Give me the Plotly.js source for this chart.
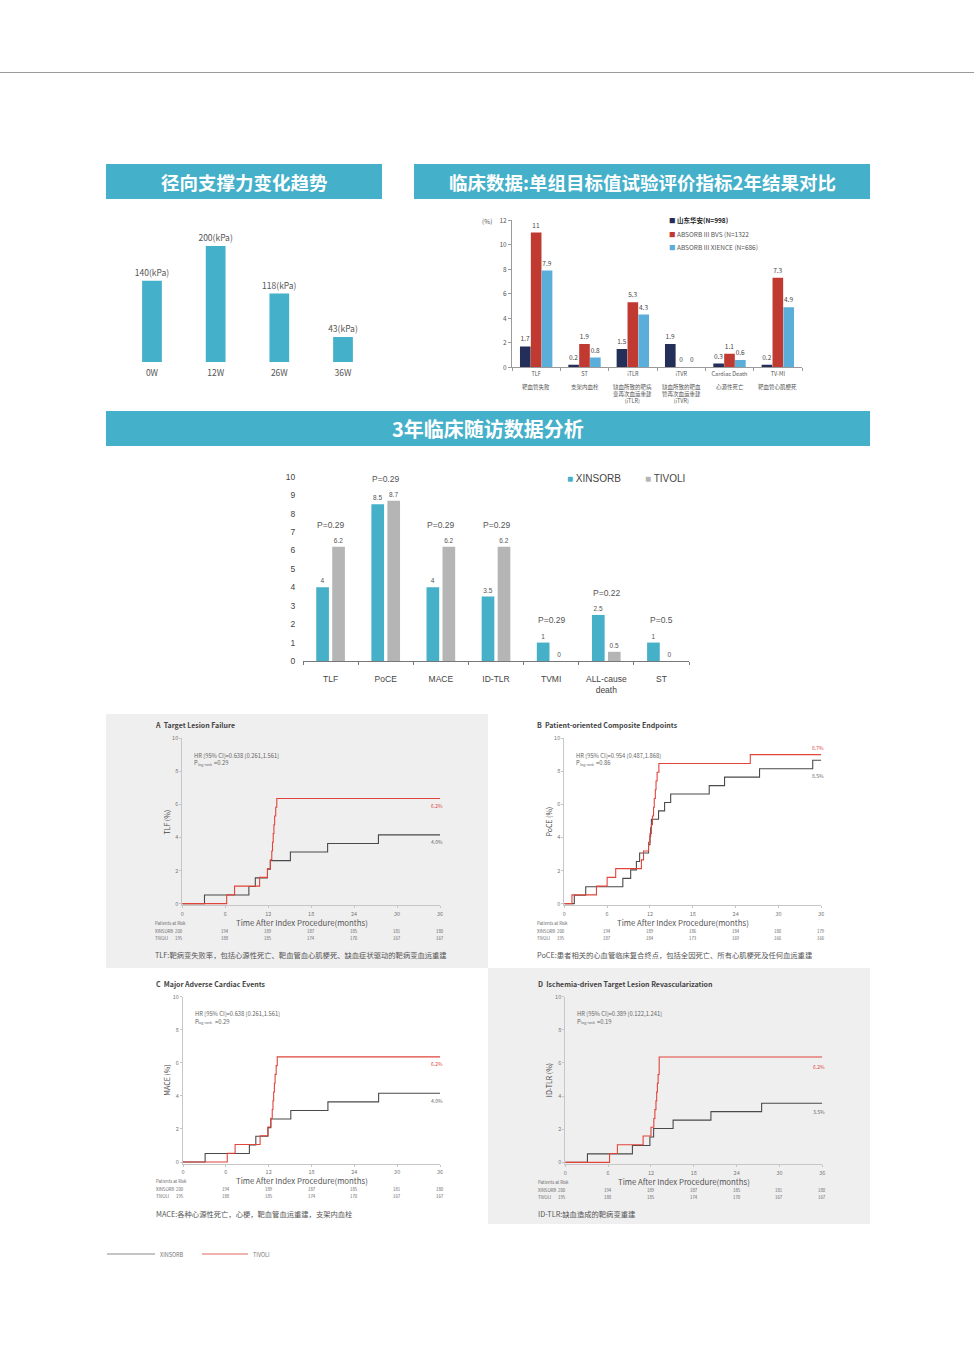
<!DOCTYPE html>
<html><head><meta charset="utf-8">
<script src="https://cdn.plot.ly/plotly-3.0.1.min.js"></script>
<style>html,body{margin:0;padding:0;background:#fff}</style>
</head><body><div id="chart" style="width:974px;height:1366px"></div>
<script>
// ---------- DATA ----------
const forceCats = ['0W','12W','26W','36W'];
const forceVals = [140,200,118,43];

const clinCats = ['TLF','ST','iTLR','iTVR','Cardiac Death','TV-MI'];
const clinCN = ['靶血管失败','支架内血栓','缺血所致的靶病<br>变再次血运重建<br>(iTLR)','缺血所致的靶血<br>管再次血运重建<br>(iTVR)','心源性死亡','靶血管心肌梗死'];
const clinNames = ['山东华安(N=998)','ABSORB III BVS (N=1322','ABSORB III XIENCE (N=686)'];
const clinHuaan = [1.7,0.2,1.5,1.9,0.3,0.2];
const clinBVS = [11,1.9,5.3,0,1.1,7.3];
const clinXience = [7.9,0.8,4.3,0,0.6,4.9];

const fuCats = ['TLF','PoCE','MACE','ID-TLR','TVMI','ALL-cause<br>death','ST'];
const fuXinsorb = [4,8.5,4,3.5,1,2.5,1];
const fuTivoli = [6.2,8.7,6.2,6.2,0,0.5,0];
const fuP = ['P=0.29','P=0.29','P=0.29','P=0.29','P=0.29','P=0.22','P=0.5'];

const monthTicks = [0,6,12,18,24,30,36];

// A: TLF
const tlfXinT = [0,3.1,9.3,10.2,11.9,12.3,15.1,20.3,27.4,36];
const tlfXinV = [0,0.52,1.04,1.56,2.08,2.6,3.12,3.64,4.16,4.16];
const tlfTivT = [0,6.2,7.3,10.8,11.9,12.3,12.5,12.6,12.7,12.8,12.9,13.05,13.2,36];
const tlfTivV = [0,0.53,1.06,1.59,2.12,2.65,3.18,3.71,4.24,4.77,5.3,5.83,6.36,6.36];
const tlfRiskXin = [200,194,189,187,185,181,180];
const tlfRiskTiv = [195,188,185,174,170,167,167];

// B: PoCE
const poceXinT = [0,1.4,3.0,8.2,9.3,10.1,10.55,11.8,12.0,12.1,12.2,13.2,14.05,14.9,20.3,22.45,27.35,34.8,36];
const poceXinV = [0,0.51,1.02,1.53,2.04,2.55,3.06,3.57,4.08,4.59,5.1,5.61,6.12,6.63,7.14,7.65,8.16,8.67,8.67];
const poceTivT = [0,1.07,4.5,6.0,7.2,10.8,11.1,11.8,12.0,12.2,12.35,12.5,12.6,12.75,12.85,13.0,13.25,26.05,36];
const poceTivV = [0,0.53,1.06,1.59,2.12,2.65,3.18,3.71,4.24,4.77,5.3,5.83,6.36,6.89,7.42,7.95,8.48,9.01,9.01];
const poceRiskXin = [200,194,189,186,184,180,179];
const poceRiskTiv = [195,187,184,173,169,166,166];

// C: MACE
const maceXinT = [0,3.1,9.3,10.2,11.9,12.3,15.1,20.3,27.4,36];
const maceXinV = [0,0.52,1.04,1.56,2.08,2.6,3.12,3.64,4.16,4.16];
const maceTivT = [0,6.2,7.3,10.8,11.9,12.3,12.5,12.6,12.7,12.8,12.9,13.05,13.2,36];
const maceTivV = [0,0.53,1.06,1.59,2.12,2.65,3.18,3.71,4.24,4.77,5.3,5.83,6.36,6.36];
const maceRiskXin = [200,194,189,187,185,181,180];
const maceRiskTiv = [195,188,185,174,170,167,167];

// D: ID-TLR
const idtlrXinT = [0,3.1,9.4,11.85,12.37,15.1,20.4,27.5,36];
const idtlrXinV = [0,0.51,1.02,1.53,2.04,2.55,3.06,3.57,3.57];
const idtlrTivT = [0,6.2,7.3,10.9,12.0,12.4,12.55,12.7,12.8,12.9,13.0,13.15,36];
const idtlrTivV = [0,0.53,1.06,1.59,2.12,2.65,3.18,3.71,4.24,4.77,5.3,6.36,6.36];
const idtlrRiskXin = [200,194,189,187,185,181,180];
const idtlrRiskTiv = [195,188,185,174,170,167,167];

// ---------- LAYOUT HELPERS ----------
const W=974, H=1366;
const fx = p => p/W, fy = p => 1 - p/H;
const CJK = '"Noto Sans CJK SC","Noto Sans",sans-serif';
const ARIAL = '"Liberation Sans",Arial,sans-serif';
const TEAL = '#45b0c9';
const traces = [];
const shapes = [];
const ann = [];
function txt(x,y,text,o){ ann.push(Object.assign({xref:'paper',yref:'paper',x:fx(x),y:fy(y),text:text,showarrow:false,xanchor:'left',yanchor:'middle',font:{family:CJK,size:7,color:'#555'}},o||{})); }

const layout = {width:W,height:H,margin:{l:0,r:0,t:0,b:0},paper_bgcolor:'#ffffff',plot_bgcolor:'rgba(0,0,0,0)',
  barmode:'overlay',showlegend:false,font:{family:CJK,color:'#555'},hovermode:false};

// top rule
shapes.push({type:'line',xref:'paper',yref:'paper',x0:0,x1:1,y0:fy(72.5),y1:fy(72.5),line:{color:'#9a9a9a',width:1}});
// header bars
function header(x0,x1,y0,y1,text,size){
  shapes.push({type:'rect',xref:'paper',yref:'paper',x0:fx(x0),x1:fx(x1),y0:fy(y1),y1:fy(y0),fillcolor:TEAL,line:{width:0},layer:'below'});
  txt((x0+x1)/2,(y0+y1)/2,'<b>'+text+'</b>',{xanchor:'center',font:{family:CJK,size:size,color:'#ffffff'}});
}
header(106,382,164,199,'径向支撑力变化趋势',18.5);
header(414,870,164,199,'临床数据:单组目标值试验评价指标2年结果对比',18.5);
header(106,870,411,446,'3年临床随访数据分析',20);

// panel backgrounds
shapes.push({type:'rect',xref:'paper',yref:'paper',x0:fx(106),x1:fx(488),y0:fy(968),y1:fy(714),fillcolor:'#f0efef',line:{width:0},layer:'below'});
shapes.push({type:'rect',xref:'paper',yref:'paper',x0:fx(488),x1:fx(870),y0:fy(1224),y1:fy(968),fillcolor:'#f0efef',line:{width:0},layer:'below'});

// ---------- CHART 1: radial force ----------
layout.xaxis = {domain:[fx(120.15),fx(374.85)],anchor:'y',type:'category',showline:false,ticks:'',showgrid:false,zeroline:false,
  ticklabelstandoff:4,tickfont:{family:CJK,size:8.5,color:'#555'},fixedrange:true};
layout.yaxis = {domain:[fy(362),fy(222)],anchor:'x',range:[0,241.4],visible:false,fixedrange:true};
traces.push({type:'bar',x:forceCats,y:forceVals,xaxis:'x',yaxis:'y',marker:{color:TEAL},width:0.31,offset:-0.155,
  text:forceVals.map(v=>v+'(kPa)'),textposition:'outside',constraintext:'none',textfont:{family:CJK,size:8.5,color:'#555'},cliponaxis:false});

// ---------- CHART 2: clinical comparison ----------
layout.xaxis2 = {domain:[fx(512),fx(802)],anchor:'y2',type:'category',showline:true,linecolor:'#9a9a9a',linewidth:1,
  ticks:'outside',tickson:'boundaries',ticklen:3,tickcolor:'#9a9a9a',showgrid:false,zeroline:false,ticklabelstandoff:1,
  tickfont:{family:CJK,size:5.5,color:'#555'},fixedrange:true};
layout.yaxis2 = {domain:[fy(367.3),fy(220.3)],anchor:'x2',range:[0,12],dtick:2,showline:true,linecolor:'#9a9a9a',linewidth:1,
  ticks:'outside',ticklen:3,tickcolor:'#9a9a9a',showgrid:false,zeroline:false,tickfont:{family:CJK,size:6.5,color:'#555'},fixedrange:true};
const clinColors = ['#232f58','#c13a31','#5aaed9'];
const clinOffsets = [-0.335,-0.11,0.115];
[clinHuaan,clinBVS,clinXience].forEach((vals,i)=>{
  traces.push({type:'bar',name:clinNames[i],x:clinCats,y:vals,xaxis:'x2',yaxis:'y2',marker:{color:clinColors[i]},
    width:0.22,offset:clinOffsets[i],text:vals.map(String),textposition:'outside',constraintext:'none',
    textfont:{family:CJK,size:6.5,color:'#444'},cliponaxis:false});
});
clinCN.forEach((t,i)=>{
  ann.push({xref:'x2',yref:'paper',x:i,y:fy(381),yanchor:'top',xanchor:'center',text:t,showarrow:false,font:{family:CJK,size:5.5,color:'#555'}});
});
txt(487,221,'(%)',{xanchor:'center',font:{family:CJK,size:6.5,color:'#555'}});
clinNames.forEach((n,i)=>{
  const t = i===0 ? '<b>'+n+'</b>' : n;
  txt(667,220+i*13.5,'<span style="color:'+clinColors[i]+'">■</span> '+t,{font:{family:CJK,size:6.5,color:i===0?'#222':'#555'}});
});

// ---------- CHART 3: 3-year follow-up ----------
layout.xaxis3 = {domain:[fx(303),fx(689)],anchor:'y3',type:'category',showline:true,linecolor:'#777',linewidth:1.4,
  ticks:'outside',tickson:'boundaries',ticklen:3,tickcolor:'#777',showgrid:false,zeroline:false,ticklabelstandoff:9,
  tickfont:{family:ARIAL,size:8.5,color:'#444'},fixedrange:true};
layout.yaxis3 = {domain:[fy(661),fy(476.7)],anchor:'x3',range:[0,10],dtick:1,showline:false,ticks:'outside',ticklen:5,
  tickcolor:'rgba(0,0,0,0)',showgrid:false,zeroline:false,tickfont:{family:ARIAL,size:8.5,color:'#444'},fixedrange:true};
traces.push({type:'bar',name:'XINSORB',x:fuCats,y:fuXinsorb,xaxis:'x3',yaxis:'y3',marker:{color:'#45b0c8'},width:0.23,offset:-0.26,
  text:fuXinsorb.map(String),textposition:'outside',constraintext:'none',textfont:{family:ARIAL,size:6.5,color:'#555'},cliponaxis:false});
traces.push({type:'bar',name:'TIVOLI',x:fuCats,y:fuTivoli,xaxis:'x3',yaxis:'y3',marker:{color:'#b5b5b5'},width:0.23,offset:0.03,
  text:fuTivoli.map(String),textposition:'outside',constraintext:'none',textfont:{family:ARIAL,size:6.5,color:'#555'},cliponaxis:false});
fuP.forEach((p,i)=>{
  ann.push({xref:'x3',yref:'y3',x:i,y:Math.max(fuXinsorb[i],fuTivoli[i])+1.2,text:p,showarrow:false,xanchor:'center',yanchor:'middle',
    font:{family:ARIAL,size:8.5,color:'#555'}});
});
txt(565,478,'<span style="color:#45b0c8">■</span> XINSORB',{font:{family:ARIAL,size:10,color:'#444'}});
txt(643,478,'<span style="color:#b5b5b5">■</span> TIVOLI',{font:{family:ARIAL,size:10,color:'#444'}});

// ---------- KM PANELS ----------
function km(idx,c){
  const xa='x'+idx, ya='y'+idx;
  const [x0,x1,yt,yb] = c.box;
  layout['xaxis'+idx] = {domain:[fx(x0),fx(x1)],anchor:ya,range:[0,36],tickvals:monthTicks,showline:true,linecolor:'#c6c6c6',linewidth:1,
    ticks:'outside',ticklen:2,tickcolor:'#c6c6c6',showgrid:false,zeroline:false,ticklabelstandoff:1,tickfont:{family:CJK,size:5.5,color:'#777'},fixedrange:true};
  layout['yaxis'+idx] = {domain:[fy(yb),fy(yt)],anchor:xa,range:[-0.1,10],tickvals:[0,2,4,6,8,10],showline:true,linecolor:'#c6c6c6',linewidth:1,
    ticks:'outside',ticklen:2,tickcolor:'#c6c6c6',showgrid:false,zeroline:false,tickfont:{family:CJK,size:5.5,color:'#777'},fixedrange:true};
  traces.push({type:'scatter',mode:'lines',name:'XINSORB',x:c.xinT,y:c.xinV,xaxis:xa,yaxis:ya,line:{shape:'hv',color:'#4a4a4a',width:1.1},cliponaxis:false});
  traces.push({type:'scatter',mode:'lines',name:'TIVOLI',x:c.tivT,y:c.tivV,xaxis:xa,yaxis:ya,line:{shape:'hv',color:'#e0443b',width:1.1},cliponaxis:false});
  // title
  txt(x0-29.5,yt-13,'<b>'+c.title+'</b>',{font:{family:CJK,size:7,color:'#444'}});
  // HR & p (subscript drawn as its own small text)
  const hf = {family:CJK,size:5.8,color:'#666'};
  txt(x0+9.5,yt+17,c.hr,{font:hf});
  txt(x0+9.5,yt+24.5,'P',{font:hf});
  txt(x0+13.3,yt+26.3,'log-rank',{font:{family:CJK,size:3.6,color:'#666'}});
  txt(x0+30,yt+24.5,'=' + c.p,{font:hf});
  // y title
  ann.push({xref:'paper',yref:'paper',x:fx(x0-15.5),y:fy((yt+yb)/2),text:c.ytitle,textangle:-90,showarrow:false,xanchor:'center',yanchor:'middle',
    font:{family:CJK,size:7,color:'#444'}});
  // x title
  txt((x0+x1)/2-9.5,yb+17,'Time After Index Procedure(months)',{xanchor:'center',font:{family:CJK,size:7.8,color:'#555'}});
  // risk table
  const rf = {family:CJK,size:4.3,color:'#666'};
  txt(x0-29.5,yb+17.5,'Patients at Risk',{font:rf});
  txt(x0-29.5,yb+25.5,'XINSORB',{font:rf});
  txt(x0-29.5,yb+32.5,'TIVOLI',{font:rf});
  [[c.riskXin,yb+25.5],[c.riskTiv,yb+32.5]].forEach(([arr,yy])=>{
    arr.forEach((v,i)=>{
      ann.push({xref:xa,yref:'paper',x:monthTicks[i],y:fy(yy),xshift:i===0?-3:0,text:String(v),showarrow:false,xanchor:'center',yanchor:'middle',
        font:{family:CJK,size:4.3,color:'#666'}});
    });
  });
  // end labels
  ann.push({xref:xa,yref:ya,x:36,y:c.tivLab[1],xshift:5,text:c.tivLab[0],showarrow:false,xanchor:'right',yanchor:'middle',font:{family:CJK,size:5,color:'#e0443b'}});
  ann.push({xref:xa,yref:ya,x:36,y:c.xinLab[1],xshift:5,text:c.xinLab[0],showarrow:false,xanchor:'right',yanchor:'middle',font:{family:CJK,size:5,color:'#666'}});
  // footnote
  txt(x0-29.5,yb+50,c.foot,{font:{family:CJK,size:7.3,color:'#555'}});
}
km(4,{box:[182.3,440,738.3,905.3],title:'A  Target Lesion Failure',ytitle:'TLF (%)',hr:'HR [95% CI]=0.638 [0.261,1.561]',p:'0.29',
  xinT:tlfXinT,xinV:tlfXinV,tivT:tlfTivT,tivV:tlfTivV,riskXin:tlfRiskXin,riskTiv:tlfRiskTiv,tivLab:['6.2%',5.95],xinLab:['4.0%',3.75],
  foot:'TLF:靶病变失败率，包括心源性死亡、靶血管血心肌梗死、缺血症状驱动的靶病变血运重建'});
km(5,{box:[564.3,821.3,738.3,905.3],title:'B  Patient-oriented Composite Endpoints',ytitle:'PoCE (%)',hr:'HR [95% CI]=0.954 [0.487,1.868]',p:'0.86',
  xinT:poceXinT,xinV:poceXinV,tivT:poceTivT,tivV:poceTivV,riskXin:poceRiskXin,riskTiv:poceRiskTiv,tivLab:['8.7%',9.44],xinLab:['8.5%',7.74],
  foot:'PoCE:患者相关的心血管临床复合终点，包括全因死亡、所有心肌梗死及任何血运重建'});
km(6,{box:[183,440,996.7,1163.7],title:'C  Major Adverse Cardiac Events',ytitle:'MACE (%)',hr:'HR [95% CI]=0.638 [0.261,1.561]',p:'0.29',
  xinT:maceXinT,xinV:maceXinV,tivT:maceTivT,tivV:maceTivV,riskXin:maceRiskXin,riskTiv:maceRiskTiv,tivLab:['6.2%',5.95],xinLab:['4.0%',3.75],
  foot:'MACE:各种心源性死亡，心梗，靶血管血运重建，支架内血栓'});
km(7,{box:[565.3,822.3,996.7,1164],title:'D  Ischemia-driven Target Lesion Revascularization',ytitle:'ID-TLR (%)',hr:'HR [95% CI]=0.389 [0.122,1.241]',p:'0.19',
  xinT:idtlrXinT,xinV:idtlrXinV,tivT:idtlrTivT,tivV:idtlrTivV,riskXin:idtlrRiskXin,riskTiv:idtlrRiskTiv,tivLab:['6.2%',5.8],xinLab:['3.5%',3.09],
  foot:'ID-TLR:缺血造成的靶病变重建'});

// bottom legend
shapes.push({type:'line',xref:'paper',yref:'paper',x0:fx(107),x1:fx(155),y0:fy(1254),y1:fy(1254),line:{color:'#8a8a8a',width:1}});
shapes.push({type:'line',xref:'paper',yref:'paper',x0:fx(202),x1:fx(248),y0:fy(1254),y1:fy(1254),line:{color:'#e2665c',width:1}});
txt(158,1254.5,'XINSORB',{font:{family:CJK,size:5.5,color:'#777'}});
txt(251,1254.5,'TIVOLI',{font:{family:CJK,size:5.5,color:'#777'}});

layout.shapes = shapes;
layout.annotations = ann;
Plotly.newPlot('chart',traces,layout,{displayModeBar:false,staticPlot:true});
</script>
</body></html>
